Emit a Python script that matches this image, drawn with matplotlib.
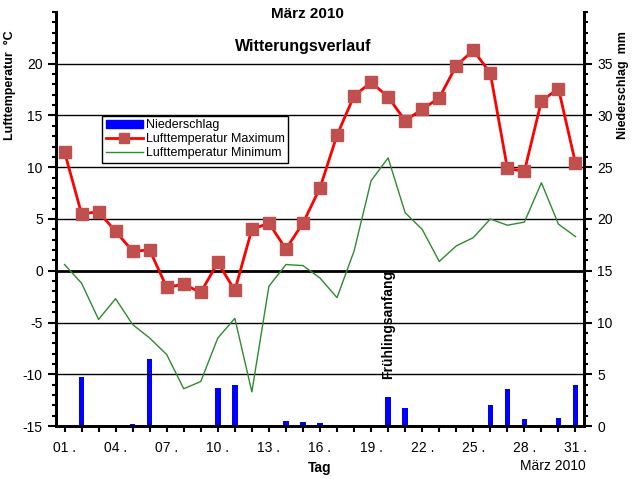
import matplotlib.pyplot as plt
import matplotlib.patches as mpatches
from matplotlib.lines import Line2D
from matplotlib.ticker import MultipleLocator

plt.rcParams['font.family'] = ['Liberation Sans', 'DejaVu Sans']
plt.rcParams['axes.unicode_minus'] = False

# Tage im März 2010
tage = list(range(1, 32))
# Lufttemperatur Maximum (°C)
t_max = [11.5, 5.5, 5.7, 3.8, 1.9, 2.0, -1.6, -1.3, -2.1, 0.8, -1.9, 4.0, 4.6, 2.1, 4.6, 8.0,
         13.1, 16.9, 18.2, 16.8, 14.5, 15.6, 16.7, 19.8, 21.3, 19.1, 9.9, 9.6, 16.4, 17.6, 10.4]
# Lufttemperatur Minimum (°C)
t_min = [0.6, -1.2, -4.7, -2.7, -5.2, -6.5, -8.1, -11.4, -10.7, -6.5, -4.6, -11.7, -1.5, 0.6, 0.5, -0.7,
         -2.6, 1.9, 8.7, 10.9, 5.6, 4.0, 0.9, 2.4, 3.2, 5.0, 4.4, 4.7, 8.5, 4.5, 3.3]
# Niederschlag (mm)
niederschlag = [0, 4.7, 0, 0, 0.2, 6.5, 0, 0, 0, 3.65, 4.0, 0, 0, 0.5, 0.4, 0.3,
                0, 0, 0, 2.8, 1.7, 0, 0, 0, 0, 2.0, 3.55, 0.7, 0, 0.8, 4.0]
tick_tage = [1, 4, 7, 10, 13, 16, 19, 22, 25, 28, 31]
tick_labels = ['%02d .' % d for d in tick_tage]

fig = plt.figure(figsize=(6.37, 4.79), dpi=100)
ax = fig.add_axes([0.0879, 0.1106, 0.8289, 0.8644])
ax2 = ax.twinx()

# Niederschlag als Balken auf rechter Achse
ax2.bar(tage, niederschlag, width=0.32, color='#0000FF', zorder=2)
ax2.set_ylim(0, 40)

ax.set_zorder(ax2.get_zorder() + 1)
ax.patch.set_visible(False)

for v in [-10, -5, 5, 10, 15, 20]:
    ax.axhline(v, color='black', linewidth=1.0, zorder=1)
ax.axhline(0, color='black', linewidth=2.0, zorder=1)

ax.plot(tage, t_min, color='#2E8B2E', linewidth=1.0, zorder=3)
ax.plot(tage, t_max, color='#FF0000', linewidth=2.0, marker='s', markersize=8,
        markerfacecolor='#C0504D', markeredgecolor='#C0504D', zorder=4)

ax.set_xlim(0.5, 31.5)
ax.set_ylim(-15, 25)
ax.set_xticks(tick_tage)
ax.set_xticklabels(tick_labels)
ax.xaxis.set_minor_locator(MultipleLocator(1))
ax.set_yticks([-15, -10, -5, 0, 5, 10, 15, 20])
ax.yaxis.set_minor_locator(MultipleLocator(1))
ax2.set_yticks([0, 5, 10, 15, 20, 25, 30, 35])
ax2.yaxis.set_minor_locator(MultipleLocator(1))

for a in (ax, ax2):
    a.spines['top'].set_visible(False)
    a.spines['left'].set_linewidth(2)
    a.spines['right'].set_linewidth(2)
    a.spines['bottom'].set_linewidth(2)
    a.tick_params(which='major', length=6, width=1.5, labelsize=10)
    a.tick_params(which='minor', length=3, width=1.5)
ax.tick_params(axis='x', which='both', length=4, width=1.5, pad=7)

ax.set_ylabel('Lufttemperatur  °C', fontsize=9, fontweight='bold')
ax.yaxis.set_label_coords(-0.076, 0.824)
ax2.set_ylabel('Niederschlag  mm', fontsize=9, fontweight='bold')
ax2.yaxis.set_label_coords(1.063, 0.824)
ax.set_xlabel('Tag', fontsize=10, fontweight='bold', labelpad=0)
ax.xaxis.set_label_coords(0.5, -0.085)

fig.text(0.482, 0.97, 'März 2010', ha='center', va='center', fontsize=11, fontweight='bold')
fig.text(0.476, 0.902, 'Witterungsverlauf', ha='center', va='center', fontsize=11.5, fontweight='bold')
fig.text(0.868, 0.027, 'März 2010', ha='center', va='center', fontsize=10)
ax.text(20, -10.5, 'Frühlingsanfang', rotation=90, ha='center', va='bottom',
        fontsize=10, fontweight='bold')

handles = [mpatches.Patch(color='#0000FF'),
           Line2D([], [], color='#FF0000', linewidth=2, marker='s', markersize=7,
                  markerfacecolor='#C0504D', markeredgecolor='#C0504D'),
           Line2D([], [], color='#2E8B2E', linewidth=1)]
leg = ax.legend(handles, ['Niederschlag', 'Lufttemperatur Maximum', 'Lufttemperatur Minimum'],
                loc='upper left', bbox_to_anchor=(0.075, 0.765), fontsize=9,
                frameon=True, fancybox=False, edgecolor='black', framealpha=1,
                borderpad=0.3, labelspacing=0.15, handlelength=3.0, handletextpad=0.2,
                handleheight=0.6)
leg.get_frame().set_linewidth(1.0)

fig.savefig('out.png', dpi=100)
